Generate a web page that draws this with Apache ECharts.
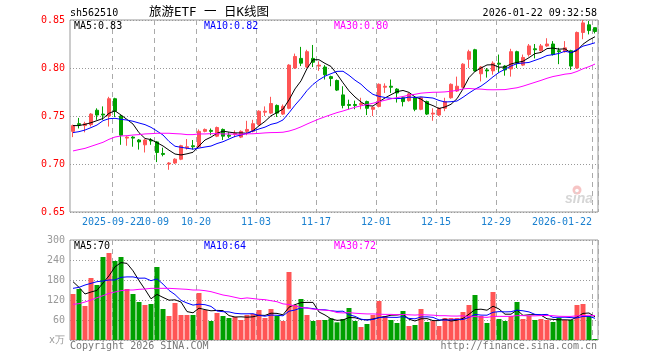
<!DOCTYPE html>
<html><head><meta charset="utf-8">
<script src="https://cdn.jsdelivr.net/npm/echarts@6/dist/echarts.min.js"></script>
<style>html,body{margin:0;padding:0;background:#fff}#c{width:660px;height:360px}</style>
</head><body><div id="c"></div>
<script>
const dates = ['2025-09-11','2025-09-12','2025-09-15','2025-09-16','2025-09-17','2025-09-18','2025-09-19','2025-09-22','2025-09-23','2025-09-24','2025-09-25','2025-09-26','2025-09-29','2025-09-30','2025-10-09','2025-10-10','2025-10-13','2025-10-14','2025-10-15','2025-10-16','2025-10-17','2025-10-20','2025-10-21','2025-10-22','2025-10-23','2025-10-24','2025-10-27','2025-10-28','2025-10-29','2025-10-30','2025-10-31','2025-11-03','2025-11-04','2025-11-05','2025-11-06','2025-11-07','2025-11-10','2025-11-11','2025-11-12','2025-11-13','2025-11-14','2025-11-17','2025-11-18','2025-11-19','2025-11-20','2025-11-21','2025-11-24','2025-11-25','2025-11-26','2025-11-27','2025-11-28','2025-12-01','2025-12-02','2025-12-03','2025-12-04','2025-12-05','2025-12-08','2025-12-09','2025-12-10','2025-12-11','2025-12-12','2025-12-15','2025-12-16','2025-12-17','2025-12-18','2025-12-19','2025-12-22','2025-12-23','2025-12-24','2025-12-25','2025-12-26','2025-12-29','2025-12-30','2025-12-31','2026-01-05','2026-01-06','2026-01-07','2026-01-08','2026-01-09','2026-01-12','2026-01-13','2026-01-14','2026-01-15','2026-01-16','2026-01-19','2026-01-20','2026-01-21','2026-01-22'];

const openP = [0.734,0.742,0.740,0.741,0.756,0.752,0.750,0.768,0.750,0.727,
 0.728,0.725,0.720,0.725,0.723,0.711,0.700,0.701,0.705,0.717,
 0.719,0.718,0.734,0.735,0.729,0.736,0.730,0.731,0.728,0.734,
 0.734,0.741,0.754,0.753,0.761,0.752,0.758,0.800,0.810,0.801,
 0.810,0.802,0.801,0.791,0.787,0.772,0.762,0.762,0.762,0.765,
 0.757,0.760,0.780,0.781,0.778,0.769,0.766,0.769,0.757,0.765,
 0.752,0.751,0.758,0.769,0.776,0.780,0.809,0.819,0.794,0.798,
 0.797,0.805,0.802,0.799,0.817,0.803,0.814,0.820,0.818,0.823,
 0.825,0.818,0.817,0.818,0.800,0.837,0.845,0.842];
const closeP = [0.740,0.741,0.742,0.752,0.751,0.751,0.768,0.755,0.730,0.728,
 0.727,0.723,0.725,0.724,0.712,0.710,0.701,0.705,0.719,0.718,
 0.718,0.734,0.736,0.734,0.738,0.729,0.729,0.732,0.734,0.736,
 0.742,0.755,0.755,0.763,0.753,0.760,0.803,0.812,0.805,0.817,
 0.806,0.803,0.793,0.789,0.777,0.761,0.761,0.761,0.763,0.758,
 0.759,0.783,0.781,0.780,0.774,0.765,0.773,0.757,0.769,0.752,
 0.753,0.758,0.765,0.783,0.781,0.804,0.817,0.797,0.801,0.797,
 0.805,0.804,0.798,0.817,0.805,0.811,0.823,0.819,0.823,0.825,
 0.814,0.817,0.821,0.802,0.837,0.847,0.839,0.838];
const lowP = [0.728,0.737,0.733,0.739,0.746,0.746,0.739,0.749,0.720,0.719,
 0.718,0.715,0.712,0.720,0.702,0.708,0.694,0.700,0.704,0.715,
 0.715,0.717,0.733,0.730,0.728,0.725,0.727,0.728,0.727,0.730,
 0.733,0.740,0.750,0.752,0.749,0.751,0.757,0.799,0.802,0.800,
 0.801,0.797,0.788,0.781,0.776,0.758,0.757,0.757,0.757,0.751,
 0.750,0.759,0.774,0.774,0.764,0.760,0.765,0.755,0.756,0.751,
 0.745,0.750,0.755,0.768,0.775,0.779,0.800,0.796,0.786,0.790,
 0.793,0.795,0.792,0.791,0.800,0.802,0.812,0.810,0.817,0.822,
 0.813,0.804,0.816,0.798,0.799,0.830,0.835,0.836];
const highP = [0.741,0.748,0.744,0.753,0.758,0.760,0.770,0.769,0.751,0.729,
 0.729,0.726,0.726,0.727,0.724,0.717,0.702,0.706,0.720,0.726,
 0.725,0.736,0.737,0.737,0.739,0.737,0.733,0.735,0.735,0.745,
 0.746,0.756,0.760,0.770,0.762,0.762,0.804,0.815,0.822,0.819,
 0.824,0.807,0.803,0.792,0.788,0.781,0.767,0.766,0.769,0.766,
 0.760,0.784,0.784,0.788,0.779,0.770,0.774,0.770,0.770,0.766,
 0.758,0.759,0.769,0.784,0.791,0.805,0.819,0.820,0.802,0.800,
 0.807,0.814,0.803,0.820,0.818,0.814,0.825,0.825,0.825,0.831,
 0.828,0.821,0.828,0.819,0.838,0.850,0.849,0.842];

const ma5 = [0.740,0.740,0.7413,0.743,0.7452,0.7474,0.7528,0.7554,0.751,0.7464,
 0.7416,0.7326,0.7266,0.7254,0.7222,0.7188,0.7144,0.7104,0.7094,0.7106,
 0.7122,0.7188,0.725,0.728,0.732,0.7342,0.7332,0.7324,0.7324,0.732,
 0.7346,0.7398,0.7444,0.7502,0.7536,0.7572,0.7668,0.7782,0.7866,0.7994,
 0.8086,0.8086,0.8048,0.8016,0.7936,0.7846,0.7762,0.7698,0.7646,0.7608,
 0.7604,0.7648,0.7688,0.7722,0.7754,0.7766,0.7746,0.7698,0.7676,0.7632,
 0.7608,0.7578,0.7594,0.7622,0.768,0.7782,0.79,0.7964,0.80,0.8032,
 0.8034,0.8008,0.801,0.8042,0.8058,0.807,0.8108,0.815,0.8162,0.8202,
 0.8208,0.8196,0.82,0.8158,0.8182,0.8248,0.8292,0.8326];
const ma10 = [0.7327,0.7337,0.7354,0.7379,0.7406,0.7451,0.7472,0.7476,0.7465,0.7458,
 0.7445,0.7427,0.741,0.7382,0.7343,0.7302,0.7235,0.7185,0.7174,0.7164,
 0.7155,0.7166,0.7177,0.7187,0.7213,0.7232,0.726,0.7287,0.7302,0.732,
 0.7344,0.7365,0.7384,0.7413,0.7428,0.7459,0.7533,0.7613,0.7684,0.7765,
 0.7829,0.7877,0.7915,0.7941,0.7965,0.7966,0.7924,0.7873,0.7831,0.7772,
 0.7725,0.7705,0.7693,0.7684,0.7681,0.7685,0.7697,0.7693,0.7699,0.7693,
 0.7687,0.7662,0.7646,0.7649,0.7656,0.7695,0.7739,0.7779,0.7811,0.7856,
 0.7908,0.7954,0.7987,0.8021,0.8045,0.8052,0.8058,0.808,0.8102,0.813,
 0.8139,0.8152,0.8175,0.816,0.8192,0.8228,0.8244,0.8263];
const ma30 = [0.7136,0.715,0.7163,0.7184,0.7205,0.7226,0.7257,0.7281,0.7292,0.7295,
 0.7302,0.7306,0.7313,0.7316,0.732,0.732,0.732,0.7316,0.7313,0.7306,
 0.7306,0.7313,0.7313,0.7316,0.7316,0.7313,0.7313,0.731,0.731,0.7314,
 0.7315,0.7319,0.7324,0.7327,0.7328,0.7331,0.7343,0.7362,0.7387,0.7416,
 0.7443,0.7469,0.7492,0.7514,0.7535,0.7552,0.7572,0.7591,0.7606,0.7619,
 0.7633,0.7649,0.7664,0.7679,0.7691,0.7703,0.7718,0.7726,0.7738,0.7743,
 0.7747,0.7748,0.7751,0.7758,0.7767,0.7782,0.7787,0.7782,0.778,0.7774,
 0.7773,0.7774,0.7775,0.7785,0.7794,0.7811,0.7831,0.7851,0.7871,0.7893,
 0.7911,0.7923,0.7936,0.7943,0.7964,0.7992,0.8014,0.8041];

const volume = [138,153,102,186,165,249,261,237,249,153,
 138,114,105,108,219,93,72,111,75,75,
 75,141,90,57,81,72,66,69,60,75,
 78,90,66,93,72,57,204,105,123,75,
 57,60,60,65,53,63,96,57,39,48,
 75,117,72,60,51,87,42,45,93,54,
 57,42,66,66,66,84,105,135,72,51,
 144,63,57,72,114,63,72,60,63,60,
 54,66,60,60,105,108,72,3];
const volMa5 = [175,158,138,144,148.8,171,192.6,219.6,232.2,229.8,
 207.6,178.2,151.8,123.6,136.8,127.8,119.4,120.6,114,85.2,
 81.6,95.4,91.2,87.6,88.8,88.2,73.2,69,69.6,68.4,
 69.6,74.4,73.8,80.4,79.8,75.6,98.4,106.2,112.2,112.8,
 112.8,84,75,63.4,59,60.2,67.4,66.8,61.6,60.6,
 63,67.2,70.2,74.4,75,77.4,62.4,57,63.6,64.2,
 58.2,58.2,62.4,57,59.4,64.8,77.4,91.2,92.4,89.4,
 101.4,93,77.4,77.4,90,73.8,75.6,76.2,74.4,63.6,
 61.8,60.6,60.6,60,69,79.8,81,69.6];
const volMa10 = [155,158,165,170,175,177,180,180,188,189.3,
 189.3,185.4,185.7,177.9,183.3,167.7,148.8,136.2,118.8,111,
 104.7,107.4,105.9,100.8,87,84.9,84.3,80.1,78.6,78.6,
 78.9,73.8,71.4,75,74.1,72.6,86.4,90,96.3,96.3,
 94.2,91.2,90.6,87.8,85.9,86.5,75.7,70.9,62.5,59.8,
 61.6,67.3,68.5,68,67.8,70.2,64.8,63.6,69,69.6,
 67.8,60.3,59.7,60.3,61.8,61.5,67.8,76.8,74.7,74.4,
 83.1,85.2,84.3,84.9,89.7,87.6,84.3,76.8,75.9,76.8,
 67.8,68.1,68.4,67.2,66.3,70.8,70.8,65.1];
const volMa30 = [107,109,114,120,127,133,140,144,148,150,
 150,152,153,155,155,155,155,154,153,152,
 150,150,148,145,140,135,132,128,124,126.3,
 124.3,122.2,121,117.9,114.8,108.4,106.5,102.1,97.9,95.3,
 92.6,90.8,89.3,87.9,82.3,81.3,82.1,80.3,79.1,78.2,
 78.2,77.4,76.8,76.9,75.9,76.4,75.6,74.8,75.9,75.2,
 74.5,72.9,72.9,72,71.8,72.7,69.4,70.4,68.7,67.9,
 70.8,70.9,70.8,71.1,73.1,73.1,72.3,72.4,73.2,73.6,
 72.9,71.2,70.8,70.8,72.6,73.3,74.3,72.9];

const tickDates = ['2025-09-22','2025-10-09','2025-10-20','2025-11-03','2025-11-17','2025-12-01','2025-12-15','2025-12-29','2026-01-22'];
const tickTexts = ['2025-09-22','10-09','10-20','11-03','11-17','12-01','12-15','12-29','2026-01-22'];
const priceMaLabels = ['MA5:0.83','MA10:0.82','MA30:0.80'];
const volMaLabels = ['MA5:70','MA10:64','MA30:72'];
const titleCode = 'sh562510';
const titleText = '旅游ETF 一 日K线图';
const timeText = '2026-01-22 09:32:58';
const footLeft = 'Copyright 2026 SINA.COM';
const footRight = 'http://finance.sina.com.cn';

const UP = '#ff5555', DOWN = '#00a000';
const MONO = '"DejaVu Sans Mono", monospace';
const F10 = '10px ' + MONO;
const maColors = ['#000000', '#0000ff', '#ff00ff'];
const LABEL_BLUE = '#1a80d0';

const candleData = dates.map((d, i) => [openP[i], closeP[i], lowP[i], highP[i]]);
const isTick = (idx, val) => tickDates.indexOf(val) >= 0;
// labels are split over two axes (alternating) so neighbouring labels never hide each other
const isTickParity = (par) => (idx, val) => { const k = tickDates.indexOf(val); return k >= 0 && k % 2 === par; };

const chart = echarts.init(document.getElementById('c'), null, {renderer: 'canvas'});

function maLine(data, color, xi, yi) {
  return {type: 'line', data: data, xAxisIndex: xi, yAxisIndex: yi, showSymbol: false, symbol: 'none',
    silent: true, lineStyle: {color: color, width: 1}, itemStyle: {color: color}, z: 5};
}

const vSplit = {show: true, interval: isTick, lineStyle: {color: '#aaaaaa', type: [5, 4], width: 1}};

function labelAxis(par) {
  return {
    interval: isTickParity(par), hideOverlap: false, margin: 5, color: LABEL_BLUE, fontFamily: MONO, fontSize: 10,
    formatter: function (val) {
      const k = tickDates.indexOf(val);
      const t = tickTexts[k];
      return k === tickDates.length - 1 ? '{r|' + t + '}' : '{c|' + t + '}';
    },
    rich: {
      c: {padding: [0, 6, 0, 0], color: LABEL_BLUE, fontFamily: MONO, fontSize: 10},
      r: {padding: [0, 66, 0, 0], color: LABEL_BLUE, fontFamily: MONO, fontSize: 10}
    }
  };
}

chart.setOption({
  animation: false,
  backgroundColor: '#ffffff',
  grid: [
    {left: 70, right: 62, top: 20, height: 192, show: true, borderColor: '#999999', borderWidth: 1},
    {left: 70, right: 62, top: 240, height: 100, show: true, borderColor: '#999999', borderWidth: 1}
  ],
  xAxis: [
    {type: 'category', gridIndex: 0, data: dates, boundaryGap: true, position: 'bottom', offset: 0,
      axisLine: {show: false}, axisTick: {show: false},
      axisLabel: labelAxis(0),
      splitLine: vSplit},
    {type: 'category', gridIndex: 1, data: dates, boundaryGap: true,
      axisLine: {show: false}, axisTick: {show: false}, axisLabel: {show: false},
      splitLine: vSplit},
    {type: 'category', gridIndex: 0, data: dates, boundaryGap: true, position: 'bottom', offset: 0,
      axisLine: {show: false}, axisTick: {show: false},
      axisLabel: labelAxis(1),
      splitLine: {show: false}}
  ],
  yAxis: [
    {type: 'value', gridIndex: 0, min: 0.65, max: 0.85, interval: 0.05, scale: false,
      axisLine: {show: false}, axisTick: {show: false},
      axisLabel: {color: '#ff0000', fontFamily: MONO, fontSize: 10, margin: 5,
        formatter: v => v.toFixed(2)},
      splitLine: {lineStyle: {color: '#999999', type: [1, 2], width: 1}}},
    {type: 'value', gridIndex: 1, min: 0, max: 300, interval: 60,
      axisLine: {show: false}, axisTick: {show: false},
      axisLabel: {fontFamily: MONO, fontSize: 10, margin: 5,
        color: v => (v === 0 ? '#c0c0c0' : '#999999'),
        formatter: v => (v === 0 ? 'x万' : String(v))},
      splitLine: {lineStyle: {color: '#999999', type: [1, 2], width: 1}}}
  ],
  series: [
    {type: 'candlestick', xAxisIndex: 0, yAxisIndex: 0, data: candleData, barWidth: 4,
      itemStyle: {color: UP, color0: DOWN, borderColor: UP, borderColor0: DOWN, borderWidth: 1}, z: 3},
    maLine(ma5, maColors[0], 0, 0),
    maLine(ma10, maColors[1], 0, 0),
    maLine(ma30, maColors[2], 0, 0),
    {type: 'bar', xAxisIndex: 1, yAxisIndex: 1, data: volume, barWidth: 5, silent: true,
      itemStyle: {color: p => (closeP[p.dataIndex] >= openP[p.dataIndex] ? UP : DOWN)}, z: 3},
    maLine(volMa5, maColors[0], 1, 1),
    maLine(volMa10, maColors[1], 1, 1),
    maLine(volMa30, maColors[2], 1, 1)
  ],
  graphic: [
    {type: 'text', x: 70, y: 13, z: 10, style: {text: titleCode, font: F10, fill: '#000', verticalAlign: 'middle', align: 'left'}},
    {type: 'text', x: 209, y: 13, z: 10, style: {text: titleText, font: '12.5px "DejaVu Sans Mono", "Noto Sans CJK SC", monospace', fill: '#000', verticalAlign: 'middle', align: 'center'}},
    {type: 'text', x: 597, y: 13, z: 10, style: {text: timeText, font: F10, fill: '#000', verticalAlign: 'middle', align: 'right'}},
    {type: 'text', x: 74, y: 26, z: 10, style: {text: priceMaLabels[0], font: F10, fill: maColors[0], verticalAlign: 'middle'}},
    {type: 'text', x: 204, y: 26, z: 10, style: {text: priceMaLabels[1], font: F10, fill: maColors[1], verticalAlign: 'middle'}},
    {type: 'text', x: 334, y: 26, z: 10, style: {text: priceMaLabels[2], font: F10, fill: maColors[2], verticalAlign: 'middle'}},
    {type: 'text', x: 74, y: 246, z: 10, style: {text: volMaLabels[0], font: F10, fill: maColors[0], verticalAlign: 'middle'}},
    {type: 'text', x: 204, y: 246, z: 10, style: {text: volMaLabels[1], font: F10, fill: maColors[1], verticalAlign: 'middle'}},
    {type: 'text', x: 334, y: 246, z: 10, style: {text: volMaLabels[2], font: F10, fill: maColors[2], verticalAlign: 'middle'}},
    {type: 'text', x: 70, y: 346, z: 10, style: {text: footLeft, font: F10, fill: '#777777', verticalAlign: 'middle'}},
    {type: 'text', x: 597, y: 346, z: 10, style: {text: footRight, font: F10, fill: '#777777', verticalAlign: 'middle', align: 'right'}},
    {type: 'circle', z: 1, shape: {cx: 577, cy: 190, r: 4.5}, style: {fill: '#f6c4c4'}},
    {type: 'circle', z: 1, shape: {cx: 577, cy: 190.5, r: 1.8}, style: {fill: '#ffffff'}},
    {type: 'text', x: 565, y: 199, z: 1, style: {text: 'sina', font: 'italic bold 14px "Liberation Sans", sans-serif', fill: '#d6d6d6', verticalAlign: 'middle'}}
  ]
});
</script>
</body></html>
